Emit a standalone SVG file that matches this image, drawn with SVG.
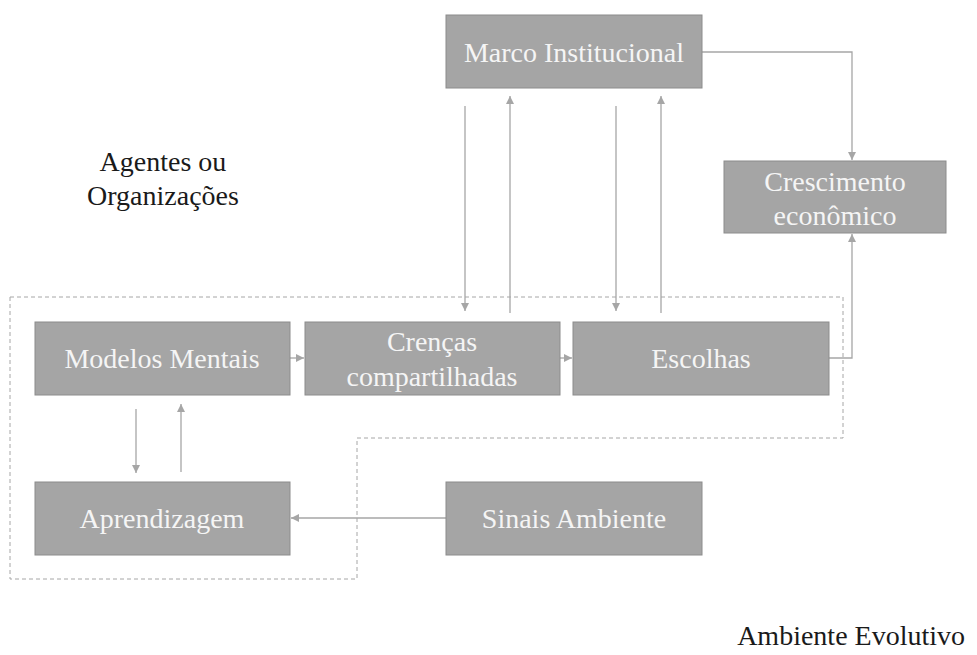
<svg xmlns="http://www.w3.org/2000/svg" width="977" height="655" viewBox="0 0 977 655">
<style>
.box{fill:#a5a5a5;stroke:#8c8c8c;stroke-width:1}
.lbl{font-size:28px;fill:#f5f5f5;text-anchor:middle}
.txt{font-size:28px;fill:#1a1a1a}
.con{fill:none;stroke:#a6a6a6;stroke-width:1.3}
.dash{fill:none;stroke:#a6a6a6;stroke-width:1;stroke-dasharray:4 3}
</style>
<defs>
<marker id="ah" viewBox="0 0 10 10" refX="10" refY="5" markerWidth="8" markerHeight="8" markerUnits="userSpaceOnUse" orient="auto">
<path d="M0,0 L10,5 L0,10 z" fill="#a6a6a6"/>
</marker>
</defs>
<rect width="977" height="655" fill="#ffffff"/>
<path class="dash" d="M10,297 H843 V438 H357 V579 H10 Z"/>
<g id="connectors">
<path class="con" d="M702,52 H852 V160" marker-end="url(#ah)"/>
<path class="con" d="M465,106 V311" marker-end="url(#ah)"/>
<path class="con" d="M510,313 V96" marker-end="url(#ah)"/>
<path class="con" d="M616,106 V311" marker-end="url(#ah)"/>
<path class="con" d="M661,313 V96" marker-end="url(#ah)"/>
<path class="con" d="M290,358 H304" marker-end="url(#ah)"/>
<path class="con" d="M560,358 H572" marker-end="url(#ah)"/>
<path class="con" d="M829,358 H852 V234" marker-end="url(#ah)"/>
<path class="con" d="M136,409 V473" marker-end="url(#ah)"/>
<path class="con" d="M181,472 V404" marker-end="url(#ah)"/>
<path class="con" d="M446,518 H291" marker-end="url(#ah)"/>
</g>
<g font-family="Liberation Serif, Tinos, Times New Roman, DejaVu Serif, serif">
<g id="marco"><rect class="box" x="446" y="15" width="256" height="73"/><text class="lbl" x="574" y="62">Marco Institucional</text></g>
<g id="crescimento"><rect class="box" x="724" y="161" width="222" height="72"/><text class="lbl" x="835" y="191">Crescimento</text><text class="lbl" x="835" y="225">econômico</text></g>
<g id="modelos"><rect class="box" x="35" y="322" width="255" height="73"/><text class="lbl" x="162" y="368">Modelos Mentais</text></g>
<g id="crencas"><rect class="box" x="305" y="322" width="255" height="73"/><text class="lbl" x="432" y="351">Crenças</text><text class="lbl" x="432" y="386">compartilhadas</text></g>
<g id="escolhas"><rect class="box" x="573" y="322" width="256" height="73"/><text class="lbl" x="701" y="368">Escolhas</text></g>
<g id="aprendizagem"><rect class="box" x="35" y="482" width="255" height="73"/><text class="lbl" x="162" y="528">Aprendizagem</text></g>
<g id="sinais"><rect class="box" x="446" y="482" width="256" height="73"/><text class="lbl" x="574" y="528">Sinais Ambiente</text></g>
<g id="agentes"><text class="txt" x="163" y="171" text-anchor="middle">Agentes ou</text><text class="txt" x="163" y="205" text-anchor="middle">Organizações</text></g>
<g id="ambiente"><text class="txt" x="965" y="645" text-anchor="end">Ambiente Evolutivo</text></g>
</g>
</svg>
